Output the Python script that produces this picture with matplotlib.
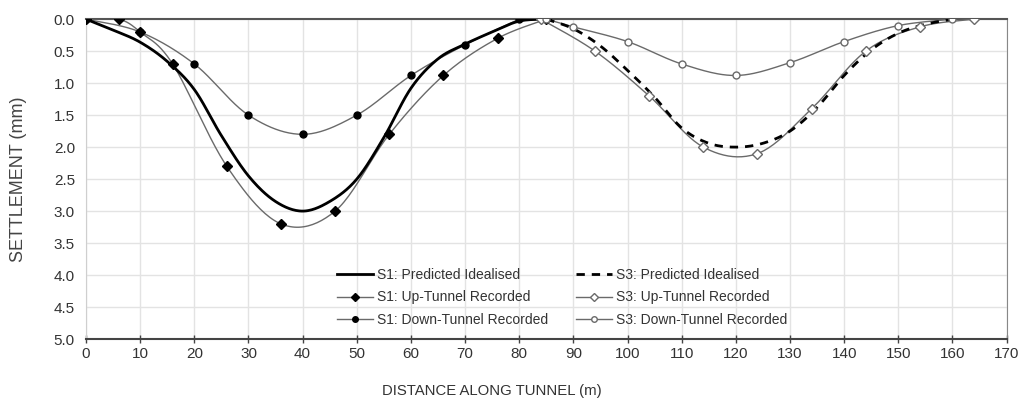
import numpy as np
import matplotlib
matplotlib.use('Agg')
import matplotlib.pyplot as plt
from matplotlib.lines import Line2D

plt.rcParams['font.family'] = ['Liberation Sans', 'DejaVu Sans']

# S1 - first tunnel section
s1_pred_x = [0, 5, 10, 15, 20, 25, 30, 35, 40, 45, 50, 55, 60, 65, 70, 75, 80, 85]
s1_pred_y = [0, 0.17, 0.36, 0.66, 1.1, 1.82, 2.45, 2.85, 3.0, 2.85, 2.5, 1.85, 1.08, 0.62, 0.39, 0.2, 0.03, 0]
s1_up_x = [0, 6, 10, 16, 26, 36, 46, 56, 66, 76, 85]
s1_up_y = [0, 0, 0.2, 0.7, 2.3, 3.2, 3.0, 1.8, 0.88, 0.3, 0]
s1_down_x = [0, 10, 20, 30, 40, 50, 60, 70, 80]
s1_down_y = [0, 0.2, 0.7, 1.5, 1.8, 1.5, 0.88, 0.4, 0]

# S3 - second tunnel section
s3_pred_x = [85, 90, 95, 100, 105, 110, 115, 120, 125, 130, 135, 140, 145, 150, 155, 160]
s3_pred_y = [0, 0.15, 0.42, 0.8, 1.22, 1.7, 1.94, 2.0, 1.94, 1.75, 1.38, 0.88, 0.48, 0.22, 0.08, 0]
s3_up_x = [84, 94, 104, 114, 124, 134, 144, 154, 164]
s3_up_y = [0, 0.5, 1.2, 2.0, 2.1, 1.4, 0.5, 0.12, 0]
s3_down_x = [85, 90, 100, 110, 120, 130, 140, 150, 160]
s3_down_y = [0, 0.12, 0.35, 0.7, 0.88, 0.68, 0.35, 0.1, 0]


def suavizar(x, y, n=25):
    # curva tipo Excel (bezier con tangentes catmull-rom)
    p = np.column_stack([x, y]).astype(float)
    out = [p[0]]
    t = np.linspace(0, 1, n)[1:, None]
    for i in range(len(p) - 1):
        p0 = p[i - 1] if i > 0 else p[i]
        p1 = p[i]
        p2 = p[i + 1]
        p3 = p[i + 2] if i + 2 < len(p) else p[i + 1]
        c1 = p1 + (p2 - p0) / 6.0
        c2 = p2 - (p3 - p1) / 6.0
        seg = ((1 - t) ** 3) * p1 + 3 * ((1 - t) ** 2) * t * c1 + 3 * (1 - t) * t ** 2 * c2 + t ** 3 * p2
        out.extend(seg)
    out = np.array(out)
    return out[:, 0], out[:, 1]


fig = plt.figure(figsize=(10.24, 4.08), dpi=100)
ax = fig.add_axes([0.084, 0.169, 0.899, 0.784])

gris = '#6a6a6a'

xs, ys = suavizar(s1_pred_x, s1_pred_y)
ax.plot(xs, ys, color='black', lw=2.0, zorder=4)
xs, ys = suavizar(s1_up_x, s1_up_y)
ax.plot(xs, ys, color=gris, lw=1.0, zorder=3)
ax.plot(s1_up_x, s1_up_y, ls='none', marker='D', ms=5, color='black', zorder=5)
xs, ys = suavizar(s1_down_x, s1_down_y)
ax.plot(xs, ys, color=gris, lw=1.0, zorder=3)
ax.plot(s1_down_x, s1_down_y, ls='none', marker='o', ms=5, color='black', zorder=5)

xs, ys = suavizar(s3_pred_x, s3_pred_y)
ax.plot(xs, ys, color='black', lw=2.0, ls=(0, (3, 2.5)), zorder=4)
xs, ys = suavizar(s3_up_x, s3_up_y)
ax.plot(xs, ys, color=gris, lw=1.0, zorder=3)
ax.plot(s3_up_x, s3_up_y, ls='none', marker='D', ms=5, mfc='white', mec=gris, mew=1.0, zorder=5)
xs, ys = suavizar(s3_down_x, s3_down_y)
ax.plot(xs, ys, color=gris, lw=1.0, zorder=3)
ax.plot(s3_down_x, s3_down_y, ls='none', marker='o', ms=5, mfc='white', mec=gris, mew=1.0, zorder=5)

ax.set_xlim(0, 170)
ax.set_ylim(5.0, 0.0)
ax.set_xticks(np.arange(0, 171, 10))
ax.set_yticks(np.arange(0, 5.01, 0.5))
ax.set_yticklabels(['%.1f' % v for v in np.arange(0, 5.01, 0.5)])
ax.grid(True, color='#e3e3e3', lw=1.0, zorder=0)
ax.tick_params(axis='x', direction='inout', length=6, width=1, color='#444', labelsize=11, labelcolor='#333', pad=3)
ax.tick_params(axis='y', length=0, labelsize=11, labelcolor='#333', pad=8)

ax.spines['top'].set_color('#555')
ax.spines['top'].set_linewidth(1.5)
ax.spines['bottom'].set_color('#444')
ax.spines['bottom'].set_linewidth(1.5)
ax.spines['left'].set_color('#cfcfcf')
ax.spines['right'].set_color('#888')

ax.set_xlabel('DISTANCE ALONG TUNNEL (m)', fontsize=10.7, color='#333')
ax.xaxis.set_label_coords(0.441, -0.14)
ax.set_ylabel('SETTLEMENT (mm)', fontsize=13, color='#444')
ax.yaxis.set_label_coords(-0.064, 0.5)

handles = [
    Line2D([], [], color='black', lw=2.0),
    Line2D([], [], color=gris, lw=1.0, marker='D', ms=4, mfc='black', mec='black'),
    Line2D([], [], color=gris, lw=1.0, marker='o', ms=4, mfc='black', mec='black'),
    Line2D([], [], color='black', lw=2.0, ls=(0, (3, 2.5))),
    Line2D([], [], color=gris, lw=1.0, marker='D', ms=4, mfc='white', mec=gris),
    Line2D([], [], color=gris, lw=1.0, marker='o', ms=4, mfc='white', mec=gris),
]
labels = ['S1: Predicted Idealised', 'S1: Up-Tunnel Recorded', 'S1: Down-Tunnel Recorded',
          'S3: Predicted Idealised', 'S3: Up-Tunnel Recorded', 'S3: Down-Tunnel Recorded']
ax.legend(handles, labels, ncol=2, loc='center', bbox_to_anchor=(0.517, 0.13), frameon=False,
          fontsize=10, handlelength=2.6, handletextpad=0.3, columnspacing=2.0, labelspacing=0.6,
          labelcolor='#333')

fig.savefig('out.png', dpi=100)
